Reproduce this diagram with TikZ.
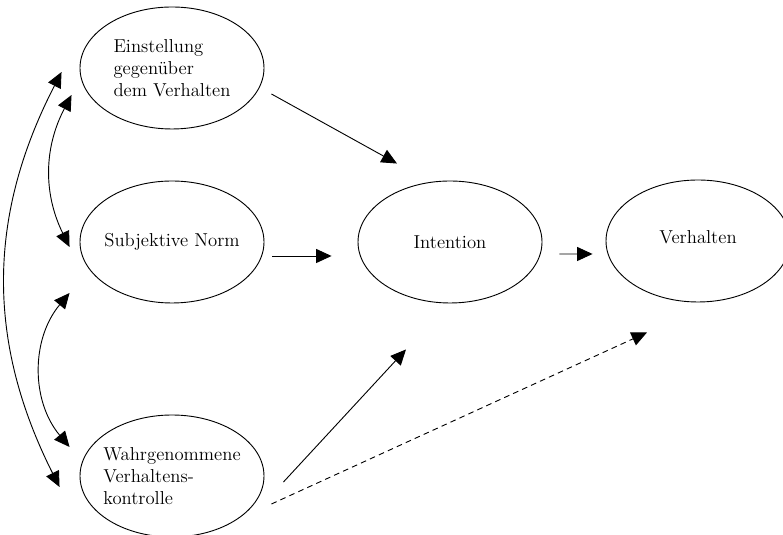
\documentclass[tikz,border=0pt]{standalone}
\usepackage{tikz}
\usetikzlibrary{arrows.meta, shapes.geometric}

\begin{document}
\begin{tikzpicture}[line width=0.65pt,
    oval/.style={draw, ellipse, minimum width=4.6cm, minimum height=3.05cm, inner sep=0pt},
    inhalt/.style={align=left, inner sep=0pt, font=\fontsize{13.3}{15.6}\selectfont},
    pfeil/.style={-{Triangle[length=11pt, width=10pt]}},
    doppel/.style={{Triangle[length=11pt, width=10pt]}-{Triangle[length=11pt, width=10pt]}}]
            \useasboundingbox (0, 0) rectangle (19.575, 13.375);

            \node[oval, label={[inhalt]center:{Einstellung\\gegenüber\\dem Verhalten}}] (einst) at (4.3, 11.675) {};
            \node[oval, label={[inhalt]center:{Subjektive Norm}}] (norm) at (4.3, 7.325) {};
            \node[oval, label={[inhalt]center:{Wahrgenommene\\Verhaltens-\\kontrolle}}] (kontr) at (4.3, 1.475) {};
            \node[oval, label={[inhalt]center:{Intention}}] (intent) at (11.25, 7.325) {};
            \node[oval, label={[inhalt, yshift=3pt]center:{Verhalten}}] (verh) at (17.45, 7.35) {};

            \draw[pfeil] ([shift={(0.175, -0.65)}]einst.east) -- ([shift={(-1.325, 0.425)}]intent.north);
            \draw[pfeil] ([shift={(0.2, -0.35)}]norm.east) -- ([shift={(-0.65, -0.35)}]intent.west);
            \draw[pfeil] ([shift={(0.425, -0.3)}]intent.east) -- ([shift={(-0.325, -0.325)}]verh.west);
            \draw[pfeil] ([shift={(0.475, -0.15)}]kontr.east) -- ([shift={(-1.1, -1.15)}]intent.south);
            \draw[pfeil, dash pattern=on 4pt off 3pt] ([shift={(0.175, -0.7)}]kontr.east) -- ([shift={(-1.275, -0.75)}]verh.south);

            \draw[doppel] ([shift={(-0.2, -0.675)}]einst.west) to[bend right=27] ([shift={(-0.25, -0.125)}]norm.west);
            \draw[doppel] ([shift={(-0.25, -1.275)}]norm.west) to[bend right=40] ([shift={(-0.25, 0.725)}]kontr.west);
            \draw[doppel] ([shift={(-0.45, -0.1)}]einst.west) to[bend right=27] ([shift={(-0.5, -0.275)}]kontr.west);
        \end{tikzpicture}
\end{document}
